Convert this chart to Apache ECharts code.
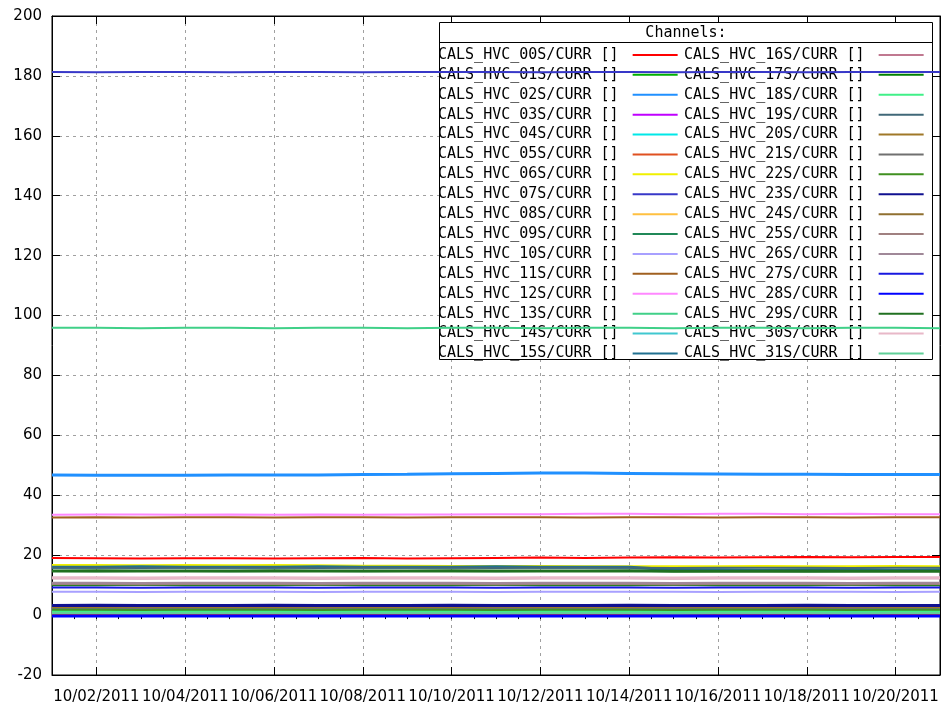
<!DOCTYPE html>
<html><head><meta charset="utf-8">
<script src="https://cdn.jsdelivr.net/npm/echarts@6/dist/echarts.min.js"></script>
<style>html,body{margin:0;padding:0;background:#fff}#c{width:943px;height:707px}</style>
</head><body><div id="c"></div>
<script>
// x values are days of October 2011 (1 = 10/01 00:00)
const days = [1,2,3,4,5,6,7,8,9,10,11,12,13,14,15,16,17,18,19,20,21];
const xTickDays = [2,4,6,8,10,12,14,16,18,20];
const xMinorTickStep = 0.5;
const yMin = -20, yMax = 200, yStep = 20;

const channelNames = [
 'CALS_HVC_00S/CURR []','CALS_HVC_01S/CURR []','CALS_HVC_02S/CURR []','CALS_HVC_03S/CURR []',
 'CALS_HVC_04S/CURR []','CALS_HVC_05S/CURR []','CALS_HVC_06S/CURR []','CALS_HVC_07S/CURR []',
 'CALS_HVC_08S/CURR []','CALS_HVC_09S/CURR []','CALS_HVC_10S/CURR []','CALS_HVC_11S/CURR []',
 'CALS_HVC_12S/CURR []','CALS_HVC_13S/CURR []','CALS_HVC_14S/CURR []','CALS_HVC_15S/CURR []',
 'CALS_HVC_16S/CURR []','CALS_HVC_17S/CURR []','CALS_HVC_18S/CURR []','CALS_HVC_19S/CURR []',
 'CALS_HVC_20S/CURR []','CALS_HVC_21S/CURR []','CALS_HVC_22S/CURR []','CALS_HVC_23S/CURR []',
 'CALS_HVC_24S/CURR []','CALS_HVC_25S/CURR []','CALS_HVC_26S/CURR []','CALS_HVC_27S/CURR []',
 'CALS_HVC_28S/CURR []','CALS_HVC_29S/CURR []','CALS_HVC_30S/CURR []','CALS_HVC_31S/CURR []'
];

const ch00 = [19.1,19.0,18.9,19.0,19.0,18.9,19.0,19.1,18.9,19.0,19.1,19.2,19.1,19.2,19.3,19.2,19.3,19.4,19.3,19.4,19.4];
const ch01 = [2.4,2.4,2.5,2.4,2.5,2.5,2.4,2.4,2.5,2.4,2.5,2.4,2.4,2.5,2.5,2.4,2.4,2.5,2.4,2.5,2.4];
const ch02 = [46.8,46.7,46.7,46.7,46.8,46.8,46.8,46.9,47.0,47.2,47.3,47.4,47.4,47.3,47.2,47.1,47.0,47.0,46.9,46.9,46.9];
const ch03 = [0.1,0.1,0.2,0.1,0.1,0.2,0.1,0.1,0.1,0.2,0.1,0.1,0.2,0.1,0.1,0.1,0.2,0.1,0.1,0.2,0.1];
const ch04 = [1.6,1.6,1.5,1.6,1.6,1.5,1.6,1.6,1.6,1.5,1.6,1.6,1.5,1.6,1.6,1.6,1.5,1.6,1.6,1.5,1.6];
const ch05 = [0.0,0.0,0.1,0.0,0.0,0.0,0.1,0.0,0.0,0.0,0.1,0.0,0.0,0.0,0.1,0.0,0.0,0.1,0.0,0.0,0.0];
const ch06 = [16.7,16.7,16.6,16.7,16.6,16.7,16.6,16.5,16.5,16.4,16.4,16.4,16.3,16.3,16.3,16.3,16.4,16.3,16.3,16.4,16.3];
const ch07 = [181.3,181.2,181.3,181.3,181.2,181.3,181.3,181.2,181.3,181.3,181.3,181.2,181.3,181.3,181.2,181.3,181.3,181.2,181.3,181.3,181.3];
const ch08 = [2.2,2.2,2.1,2.2,2.2,2.2,2.1,2.2,2.2,2.1,2.2,2.2,2.2,2.1,2.2,2.2,2.1,2.2,2.2,2.2,2.1];
const ch09 = [14.7,14.6,14.7,14.7,14.6,14.7,14.7,14.6,14.7,14.7,14.6,14.7,14.7,14.7,14.6,14.7,14.7,14.6,14.7,14.7,14.7];
const ch10 = [7.8,7.8,7.7,7.8,7.8,7.8,7.7,7.8,7.8,7.8,7.7,7.8,7.8,7.8,7.8,7.7,7.8,7.8,7.8,7.7,7.8];
const ch11 = [32.6,32.7,32.6,32.7,32.7,32.6,32.7,32.7,32.6,32.7,32.7,32.7,32.6,32.7,32.7,32.6,32.7,32.7,32.6,32.7,32.7];
const ch12 = [33.5,33.6,33.6,33.5,33.6,33.5,33.6,33.5,33.6,33.6,33.7,33.7,33.8,33.8,33.7,33.8,33.8,33.7,33.8,33.7,33.7];
const ch13 = [95.9,95.9,95.8,95.9,95.9,95.8,95.9,95.9,95.8,95.9,95.9,95.8,95.9,95.9,95.8,95.9,95.9,95.8,95.9,95.9,95.8];
const ch14 = [1.0,1.0,0.9,1.0,1.0,1.0,0.9,1.0,1.0,1.0,0.9,1.0,1.0,1.0,0.9,1.0,1.0,1.0,0.9,1.0,1.0];
const ch15 = [16.0,16.0,16.1,16.0,16.0,16.0,16.1,16.0,16.0,16.0,16.1,16.0,16.0,16.0,15.1,15.1,15.0,15.1,15.1,15.0,15.1];
const ch16 = [12.3,12.3,12.2,12.3,12.3,12.3,12.2,12.3,12.3,12.3,12.2,12.3,12.3,12.3,12.2,12.3,12.3,12.3,12.2,12.3,12.3];
const ch17 = [10.0,10.0,10.1,10.0,10.0,10.0,10.1,10.0,10.0,10.0,10.1,10.0,10.0,10.0,10.1,10.0,10.0,10.0,10.1,10.0,10.0];
const ch18 = [1.3,1.3,1.2,1.3,1.3,1.3,1.2,1.3,1.3,1.3,1.2,1.3,1.3,1.3,1.2,1.3,1.3,1.3,1.2,1.3,1.3];
const ch19 = [15.8,15.8,15.7,15.8,15.8,15.8,15.7,15.8,15.8,15.8,15.7,15.8,15.8,15.8,15.7,15.8,15.8,15.8,15.7,15.8,15.8];
const ch20 = [2.6,2.6,2.5,2.6,2.6,2.6,2.5,2.6,2.6,2.6,2.5,2.6,2.6,2.6,2.5,2.6,2.6,2.6,2.5,2.6,2.6];
const ch21 = [2.0,2.0,2.1,2.0,2.0,2.0,2.1,2.0,2.0,2.0,2.1,2.0,2.0,2.0,2.1,2.0,2.0,2.0,2.1,2.0,2.0];
const ch22 = [1.8,1.8,1.7,1.8,1.8,1.8,1.7,1.8,1.8,1.8,1.7,1.8,1.8,1.8,1.7,1.8,1.8,1.8,1.7,1.8,1.8];
const ch23 = [3.2,3.3,3.2,3.2,3.2,3.3,3.2,3.2,3.2,3.3,3.2,3.2,3.2,3.3,3.2,3.2,3.2,3.3,3.2,3.2,3.2];
const ch24 = [10.7,10.7,10.6,10.7,10.7,10.7,10.6,10.7,10.7,10.7,10.6,10.7,10.7,10.7,10.6,10.7,10.7,10.7,10.6,10.7,10.7];
const ch25 = [10.5,10.5,10.4,10.5,10.5,10.5,10.4,10.5,10.5,10.5,10.4,10.5,10.5,10.5,10.4,10.5,10.5,10.5,10.4,10.5,10.5];
const ch26 = [10.8,10.8,10.7,10.8,10.8,10.8,10.7,10.8,10.8,10.8,10.7,10.8,10.8,10.8,10.7,10.8,10.8,10.8,10.7,10.8,10.8];
const ch27 = [9.2,9.2,9.1,9.2,9.2,9.2,9.1,9.2,9.2,9.2,9.1,9.2,9.2,9.2,9.1,9.2,9.2,9.2,9.1,9.2,9.2];
const ch28 = [-0.3,-0.3,-0.2,-0.3,-0.3,-0.3,-0.2,-0.3,-0.3,-0.3,-0.2,-0.3,-0.3,-0.3,-0.2,-0.3,-0.3,-0.3,-0.2,-0.3,-0.3];
const ch29 = [14.7,14.8,14.7,14.7,14.7,14.8,14.7,14.7,14.7,14.8,14.7,14.7,14.7,14.8,14.6,14.6,14.6,14.7,14.6,14.6,14.6];
const ch30 = [12.5,12.5,12.4,12.5,12.5,12.5,12.4,12.5,12.5,12.5,12.4,12.5,12.5,12.5,12.4,12.5,12.5,12.5,12.4,12.5,12.5];
const ch31 = [0.7,0.7,0.6,0.7,0.7,0.7,0.6,0.7,0.7,0.7,0.6,0.7,0.7,0.7,0.6,0.7,0.7,0.7,0.6,0.7,0.7];

const channelValues = [ch00,ch01,ch02,ch03,ch04,ch05,ch06,ch07,ch08,ch09,ch10,ch11,ch12,ch13,ch14,ch15,
                       ch16,ch17,ch18,ch19,ch20,ch21,ch22,ch23,ch24,ch25,ch26,ch27,ch28,ch29,ch30,ch31];

// styles
const channelColors = [
 '#ff0000','#00b000','#2090ff','#c000ff','#00e8e8','#e05020','#f0f000','#3838c8',
 '#ffc040','#208858','#a8a0ff','#a06020','#ff88ff','#40d088','#40c8d0','#207090',
 '#c07890','#008000','#40f088','#406878','#a07828','#707070','#409020','#101090',
 '#907030','#a08080','#a08898','#1818e0','#0000ff','#207020','#e8b8c8','#60d098'
];
const lineWidths = [2,2,3,2,2,2,2,2, 2,2,2,2,2,2,2,3, 2,2,2,2,2,2,2,3, 2,3,2,2,3,3,3,2];

const gridLine = {show: true, lineStyle: {color: '#a0a0a0', width: 1, type: [3, 4]}};
const pad2 = d => (d < 10 ? '0' : '') + d;

const chart = echarts.init(document.getElementById('c'), null, {renderer: 'canvas'});
const legendBase = {
  orient: 'vertical', align: 'right', top: 45, padding: 0,
  itemWidth: 45, itemHeight: 2, itemGap: 0, icon: 'rect',
  itemStyle: {borderWidth: 0},
  selectedMode: false, z: 1,
  textStyle: {fontFamily: 'DejaVu Sans Mono', fontSize: 15, color: '#000', lineHeight: 19.9},
  formatter: n => n + ' '
};
chart.setOption({
  animation: false,
  backgroundColor: '#fff',
  grid: {left: 52, right: 3, top: 16, bottom: 32, show: true, borderColor: '#000', borderWidth: 1,
         containLabel: false, outerBoundsMode: 'none'},
  xAxis: [
    {type: 'value', position: 'bottom', min: days[0], max: days[days.length - 1],
     axisLine: {show: true, onZero: false, lineStyle: {color: '#000', width: 1}},
     axisTick: {show: true, inside: true, length: 8, customValues: xTickDays, lineStyle: {color: '#000'}},
     axisLabel: {show: true, customValues: xTickDays, margin: 15, hideOverlap: false,
                 showMinLabel: true, showMaxLabel: true,
                 fontFamily: 'DejaVu Sans', fontSize: 15, color: '#000',
                 formatter: v => '10/' + pad2(v) + '/2011'},
     splitLine: gridLine},
    {type: 'value', position: 'bottom', min: days[0], max: days[days.length - 1], interval: xMinorTickStep,
     axisLine: {show: false}, axisLabel: {show: false}, splitLine: {show: false},
     axisTick: {show: true, inside: true, length: 4, lineStyle: {color: '#000'}}},
    {type: 'value', position: 'top', min: days[0], max: days[days.length - 1],
     axisLine: {show: true, onZero: false, lineStyle: {color: '#000'}}, axisLabel: {show: false}, splitLine: {show: false},
     axisTick: {show: true, inside: true, length: 8, customValues: xTickDays, lineStyle: {color: '#000'}}},
    {type: 'value', position: 'top', min: days[0], max: days[days.length - 1], interval: xMinorTickStep,
     axisLine: {show: false}, axisLabel: {show: false}, splitLine: {show: false},
     axisTick: {show: true, inside: true, length: 4, lineStyle: {color: '#000'}}}
  ],
  yAxis: [
    {type: 'value', position: 'left', min: yMin, max: yMax, interval: yStep,
     axisLine: {show: true, onZero: false, lineStyle: {color: '#000'}},
     axisTick: {show: true, inside: true, length: 8, lineStyle: {color: '#000'}},
     axisLabel: {show: true, margin: 10, fontFamily: 'DejaVu Sans', fontSize: 15, color: '#000',
                 showMinLabel: true, showMaxLabel: true},
     splitLine: gridLine},
    {type: 'value', position: 'right', min: yMin, max: yMax, interval: yStep,
     axisLine: {show: true, onZero: false, lineStyle: {color: '#000'}},
     axisTick: {show: true, inside: true, length: 8, lineStyle: {color: '#000'}},
     axisLabel: {show: false}, splitLine: {show: false}}
  ],
  legend: [
    Object.assign({}, legendBase, {left: 438, data: channelNames.slice(0, 16)}),
    Object.assign({}, legendBase, {left: 684, data: channelNames.slice(16, 32)})
  ],
  graphic: [
    {type: 'rect', z: 0.5, silent: true,
     shape: {x: 439.5, y: 22.5, width: 493, height: 337},
     style: {fill: '#fff', stroke: '#000', lineWidth: 1}},
    {type: 'line', z: 0.5, z2: 10, silent: true,
     shape: {x1: 439.5, y1: 42.5, x2: 932.5, y2: 42.5},
     style: {stroke: '#000', lineWidth: 1}},
    {type: 'text', z: 0.5, z2: 10, silent: true, x: 686, y: 33,
     style: {text: 'Channels:', fill: '#000', font: '15px "DejaVu Sans Mono"', textAlign: 'center', textVerticalAlign: 'middle', verticalAlign: 'middle', align: 'center'}}
  ],
  series: channelNames.map((name, i) => ({
    name: name, type: 'line', xAxisIndex: 0, yAxisIndex: 0,
    data: days.map((d, j) => [d, channelValues[i][j]]),
    symbol: 'none', showSymbol: false, silent: true, z: 2,
    itemStyle: {color: channelColors[i]},
    lineStyle: {color: channelColors[i], width: lineWidths[i]}
  }))
});
</script>
</body></html>
